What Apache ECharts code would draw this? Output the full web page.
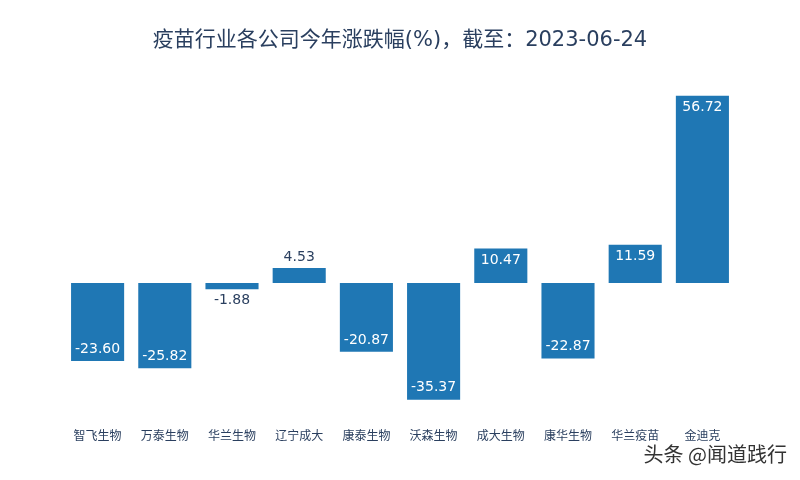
<!DOCTYPE html>
<html><head><meta charset="utf-8">
<script src="https://cdn.jsdelivr.net/npm/echarts@6/dist/echarts.min.js"></script>
<style>html,body{margin:0;padding:0;background:#fff}#c{width:800px;height:480px}</style>
</head><body><div id="c"></div>
<script>
var categories = ['智飞生物','万泰生物','华兰生物','辽宁成大','康泰生物','沃森生物','成大生物','康华生物','华兰疫苗','金迪克'];
var values = [-23.60, -25.82, -1.88, 4.53, -20.87, -35.37, 10.47, -22.87, 11.59, 56.72];
var titleText = '疫苗行业各公司今年涨跌幅(%)，截至：2023-06-24';
var watermark = '头条 @闻道践行';

var FONT = '"DejaVu Sans", "Noto Sans CJK SC", sans-serif';
var data = values.map(function(v){
  var small = Math.abs(v) < 7;
  var pos = small ? (v < 0 ? 'bottom' : 'top') : (v < 0 ? 'insideBottom' : 'insideTop');
  return {value: v, label: {position: pos, color: small ? '#2a3f5f' : '#ffffff', distance: small ? 4 : 5}};
});
var chart = echarts.init(document.getElementById('c'));
chart.setOption({
  animation: false,
  title: {text: titleText, left: 'center', top: 25, textStyle: {fontFamily: FONT, fontSize: 21, fontWeight: 'normal', color: '#2a3f5f'}},
  grid: {left: 64, width: 672, top: 85, height: 330},
  xAxis: {type: 'category', data: categories, axisLine: {show: false}, axisTick: {show: false},
    axisLabel: {margin: 16, fontSize: 12, color: '#2a3f5f', fontFamily: FONT}},
  yAxis: {type: 'value', min: -40, max: 60, show: false, splitLine: {show: false}},
  series: [{type: 'bar', data: data, barCategoryGap: '21%', itemStyle: {color: '#1f77b4'},
    label: {show: true, fontSize: 14, fontFamily: FONT, formatter: function(p){return p.value.toFixed(2);}}}],
  graphic: [{type: 'text', right: 12, top: 443, style: {text: watermark, fontSize: 20, fontFamily: '"Noto Sans CJK SC", sans-serif', fill: '#333', stroke: '#fff', lineWidth: 2}}]
});
</script></body></html>
